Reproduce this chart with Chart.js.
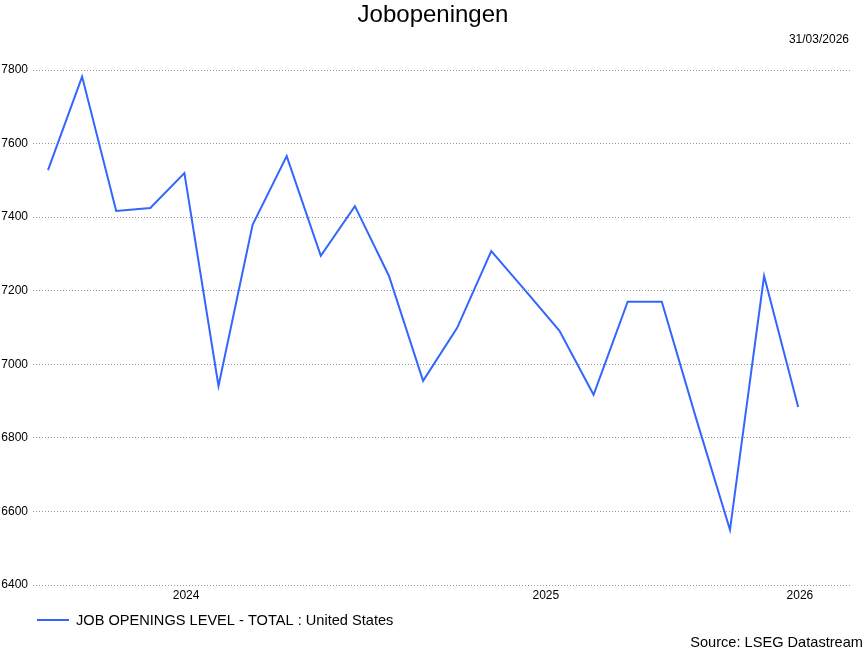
<!DOCTYPE html>
<html>
<head>
<meta charset="utf-8">
<script src="https://cdn.jsdelivr.net/npm/chart.js@4/dist/chart.umd.min.js"></script>
<style>
  html, body { margin: 0; padding: 0; background: #fff; }
  #wrap { width: 866px; height: 650px; position: relative; }
</style>
</head>
<body>
<div id="wrap"><canvas id="c" width="866" height="650"></canvas></div>
<script>
// Data (monthly, thousands)
const months = ['2024-04','2024-05','2024-06','2024-07','2024-08','2024-09','2024-10','2024-11','2024-12',
                '2025-01','2025-02','2025-03','2025-04','2025-05','2025-06','2025-07','2025-08','2025-09',
                '2025-10','2025-11','2025-12','2026-01','2026-02'];
const jobOpenings = [7528, 7782, 7417, 7425, 7520, 6941, 7379, 7566, 7295,
                     7430, 7240, 6955, 7099, 7308, 7200, 7091, 6917, 7170,
                     7170, 6855, 6550, 7240, 6884];
const yearLabels = ['2024', '2025', '2026'];
const yearLabelPositions = [4.05, 14.6, 22.05];
const yTicks = [6400, 6600, 6800, 7000, 7200, 7400, 7600, 7800];

const titleText = 'Jobopeningen';
const dateText = '31/03/2026';
const seriesName = 'JOB OPENINGS LEVEL - TOTAL : United States';
const sourceText = 'Source: LSEG Datastream';

const FONT = 'Arial, "Liberation Sans", sans-serif';
const LINE_COLOR = '#3366ff';

const textPlugin = {
  id: 'texts',
  afterDraw(chart) {
    const ctx = chart.ctx;
    ctx.save();
    ctx.fillStyle = '#000';
    ctx.textBaseline = 'middle';
    ctx.font = '24px ' + FONT;
    ctx.textAlign = 'center';
    ctx.fillText(titleText, 433, 15);
    ctx.font = '12px ' + FONT;
    ctx.textAlign = 'right';
    ctx.fillText(dateText, 849, 40);
    // legend
    ctx.strokeStyle = LINE_COLOR;
    ctx.lineWidth = 2;
    ctx.beginPath();
    ctx.moveTo(37, 620);
    ctx.lineTo(69, 620);
    ctx.stroke();
    ctx.font = '14.6px ' + FONT;
    ctx.textAlign = 'left';
    ctx.fillText(seriesName, 76, 621);
    ctx.textAlign = 'right';
    ctx.fillText(sourceText, 863, 643);
    ctx.restore();
  }
};

new Chart(document.getElementById('c'), {
  type: 'line',
  data: {
    datasets: [{
      label: seriesName,
      data: months.map((m, i) => ({ x: i, y: jobOpenings[i] })),
      borderColor: LINE_COLOR,
      borderWidth: 2,
      pointRadius: 0,
      tension: 0,
      fill: false
    }]
  },
  options: {
    responsive: false,
    animation: false,
    layout: { padding: { top: 70, right: 16, bottom: 0, left: 0 } },
    plugins: { legend: { display: false }, tooltip: { enabled: false }, title: { display: false } },
    scales: {
      x: {
        type: 'linear',
        min: -0.44,
        max: 23.52,
        afterBuildTicks(scale) { scale.ticks = yearLabelPositions.map(v => ({ value: v })); },
        afterFit(scale) { scale.height = 65; },
        grid: { display: false, drawTicks: false },
        border: { display: false },
        ticks: {
          autoSkip: false,
          maxRotation: 0,
          padding: 3,
          color: '#000',
          font: { family: FONT, size: 12 },
          callback(value) {
            const idx = yearLabelPositions.indexOf(value);
            return idx >= 0 ? yearLabels[idx] : '';
          }
        }
      },
      y: {
        min: 6400,
        max: 7800,
        afterBuildTicks(scale) { scale.ticks = yTicks.map(v => ({ value: v })); },
        afterFit(scale) { scale.width = 33; },
        grid: { color: '#999', borderDash: [1, 2], drawTicks: false, lineWidth: 1 },
        border: { display: false, dash: [1, 2] },
        ticks: {
          padding: 5,
          color: '#000',
          font: { family: FONT, size: 12 },
          callback: v => String(v)
        }
      }
    }
  },
  plugins: [textPlugin]
});
</script>
</body>
</html>
